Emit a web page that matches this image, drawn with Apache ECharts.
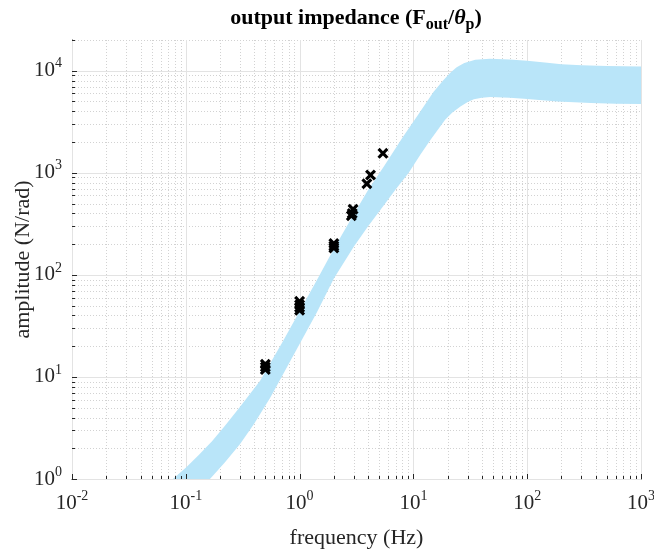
<!DOCTYPE html>
<html>
<head>
<meta charset="utf-8">
<script src="https://cdn.jsdelivr.net/npm/echarts/dist/echarts.min.js"></script>
<style>
  html, body { margin: 0; padding: 0; background: #ffffff; }
  #chart { width: 654px; height: 554px; }
</style>
</head>
<body>
<div id="chart"></div>
<script>
// ---- axis ranges and tick values ----
const xMin = 0.01, xMax = 1000;
const yMin = 1, yMax = 20000;
const xMajorTicks = [0.01, 0.1, 1, 10, 100, 1000];
const yMajorTicks = [1, 10, 100, 1000, 10000];

// ---- band: upper edge (frequency Hz, amplitude N/rad) ----
const upperFreq = [0.077, 0.1, 0.13, 0.17, 0.22, 0.3, 0.45, 0.7, 1.0, 1.42, 2.0, 3.0, 4.0, 5.5, 8.0, 11, 15, 18, 21, 24, 28, 35, 47, 70, 100, 150, 200, 300, 500, 1000];
const upperAmp  = [1, 1.29, 1.72, 2.35, 3.3, 5.1, 9.2, 21.5, 44, 89, 180, 395, 680, 1150, 2200, 3700, 6200, 7900, 9500, 10800, 11900, 12800, 13100, 12900, 12500, 12000, 11600, 11300, 11100, 11000];

// ---- band: lower edge ----
const lowerFreq = [0.163, 0.22, 0.3, 0.4, 0.55, 0.67, 1.0, 1.42, 2.0, 3.0, 4.0, 5.5, 7.0, 9.1, 11.5, 14.1, 19, 22, 25.9, 30, 34, 40, 47.5, 70, 94, 184, 362, 600, 1000];
const lowerAmp  = [1, 1.45, 2.2, 3.5, 6.2, 9.3, 21, 43, 92, 190, 300, 480, 690, 1000, 1500, 2100, 3300, 3900, 4470, 4950, 5250, 5450, 5530, 5450, 5310, 5000, 4820, 4750, 4720];

// ---- measured points (crosses) ----
const markerFreq = [0.5, 0.5, 0.5, 1, 1, 1, 1, 2, 2, 2, 2.85, 2.9, 2.95, 3.9, 4.2, 5.4];
const markerAmp  = [11.8, 12.5, 13.3, 45, 48, 51, 55, 183, 192, 203, 380, 400, 440, 780, 950, 1550];

// ---- labels ----
const titleParts = ['output impedance (F', 'out', '/', 'θ', 'p', ')'];
const xName = 'frequency (Hz)';
const yName = 'amplitude (N/rad)';

// minor tick values (2..9 x each decade)
const xMinorTicks = [];
xMajorTicks.slice(0, -1).forEach(m => { for (let k = 2; k <= 9; k++) xMinorTicks.push(m * k); });
const yMinorTicks = [];
yMajorTicks.forEach(m => { for (let k = 2; k <= 9; k++) if (m * k <= yMax * 1.0001) yMinorTicks.push(m * k); });

const FONT = '"Liberation Serif", "Times New Roman", serif';
const AXIS_COLOR = '#262626';
const MAJOR_GRID = '#e3e3e3';
const MINOR_GRID = '#d2d2d2';
const BAND_COLOR = '#b9e5f9';

const px = v => Math.round(v) + 0.5;

function vGrid(values, major) {
  return {
    type: 'custom', coordinateSystem: 'cartesian2d', silent: true, z: 1,
    data: values.map(v => [v, yMin]),
    renderItem: (params, api) => {
      const cs = params.coordSys;
      const x = px(api.coord([api.value(0), yMin])[0]);
      return { type: 'line', shape: { x1: x, y1: cs.y, x2: x, y2: cs.y + cs.height },
        style: { stroke: major ? MAJOR_GRID : MINOR_GRID, lineWidth: 1, lineDash: major ? null : [1, 2] } };
    }
  };
}
function hGrid(values, major) {
  return {
    type: 'custom', coordinateSystem: 'cartesian2d', silent: true, z: 1,
    data: values.map(v => [xMin, v]),
    renderItem: (params, api) => {
      const cs = params.coordSys;
      const y = px(api.coord([xMin, api.value(1)])[1]);
      return { type: 'line', shape: { x1: cs.x, y1: y, x2: cs.x + cs.width, y2: y },
        style: { stroke: major ? MAJOR_GRID : MINOR_GRID, lineWidth: 1, lineDash: major ? null : [1, 2] } };
    }
  };
}
function xTicks(values, len) {
  return {
    type: 'custom', coordinateSystem: 'cartesian2d', silent: true, z: 6,
    data: values.map(v => [v, yMin]),
    renderItem: (params, api) => {
      const cs = params.coordSys;
      const x = px(api.coord([api.value(0), yMin])[0]);
      const b = cs.y + cs.height;
      return { type: 'line', shape: { x1: x, y1: b, x2: x, y2: b - len }, style: { stroke: AXIS_COLOR, lineWidth: 1 } };
    }
  };
}
function yTicks(values, len) {
  return {
    type: 'custom', coordinateSystem: 'cartesian2d', silent: true, z: 6,
    data: values.map(v => [xMin, v]),
    renderItem: (params, api) => {
      const cs = params.coordSys;
      const y = px(api.coord([xMin, api.value(1)])[1]);
      return { type: 'line', shape: { x1: cs.x, y1: y, x2: cs.x + len, y2: y }, style: { stroke: AXIS_COLOR, lineWidth: 1 } };
    }
  };
}

const bandSeries = {
  type: 'custom', coordinateSystem: 'cartesian2d', silent: true, z: 3,
  data: [[upperFreq[0], upperAmp[0]]],
  renderItem: (params, api) => {
    const pts = [];
    for (let i = 0; i < upperFreq.length; i++) pts.push(api.coord([upperFreq[i], upperAmp[i]]));
    for (let i = lowerFreq.length - 1; i >= 0; i--) pts.push(api.coord([lowerFreq[i], lowerAmp[i]]));
    return { type: 'polygon', shape: { points: pts }, style: { fill: BAND_COLOR, stroke: null } };
  }
};

function powLabel(v) {
  const l = Math.log10(v);
  const e = Math.round(l);
  if (Math.abs(l - e) > 1e-6) return '';
  return '{b|10}{s|' + e + '}';
}
const labelRich = {
  b: { fontFamily: FONT, fontSize: 21, color: AXIS_COLOR, lineHeight: 28 },
  s: { fontFamily: FONT, fontSize: 14, color: AXIS_COLOR, verticalAlign: 'top' }
};

const chart = echarts.init(document.getElementById('chart'), null, { renderer: 'canvas' });
chart.setOption({
  animation: false,
  backgroundColor: '#ffffff',
  grid: { left: 72, right: 13, top: 40, bottom: 75, containLabel: false, outerBoundsMode: 'none' },
  xAxis: {
    type: 'log', logBase: 10, min: xMin, max: xMax,
    name: xName, nameLocation: 'middle', nameGap: 48, nameMoveOverlap: false,
    nameTextStyle: { fontFamily: FONT, fontSize: 22, color: AXIS_COLOR },
    axisLine: { show: true, lineStyle: { color: AXIS_COLOR, width: 1 } },
    axisTick: { show: false },
    splitLine: { show: false },
    axisLabel: { formatter: powLabel, rich: labelRich, margin: 10, showMinLabel: true, showMaxLabel: true, hideOverlap: false }
  },
  yAxis: {
    type: 'log', logBase: 10, min: yMin, max: yMax,
    name: yName, nameLocation: 'middle', nameGap: 38, nameRotate: 90, nameMoveOverlap: false,
    nameTextStyle: { fontFamily: FONT, fontSize: 22, color: AXIS_COLOR },
    axisLine: { show: true, lineStyle: { color: AXIS_COLOR, width: 1 } },
    axisTick: { show: false },
    splitLine: { show: false },
    axisLabel: { formatter: powLabel, rich: labelRich, margin: 10, showMinLabel: true, showMaxLabel: true, hideOverlap: false }
  },
  graphic: [{
    type: 'text', x: 356, y: 3, z: 10,
    style: {
      text: '{b|' + titleParts[0] + '}{sub|' + titleParts[1] + '}{b|' + titleParts[2] + '}{it|' + titleParts[3] + '}{sub|' + titleParts[4] + '}{b|' + titleParts[5] + '}',
      align: 'center', verticalAlign: 'top',
      rich: {
        b: { fontFamily: FONT, fontSize: 22, fontWeight: 'bold', fill: '#000', lineHeight: 30 },
        it: { fontFamily: FONT, fontSize: 22, fontWeight: 'bold', fontStyle: 'italic', fill: '#000', lineHeight: 30 },
        sub: { fontFamily: FONT, fontSize: 16, fontWeight: 'bold', fill: '#000', verticalAlign: 'bottom' }
      }
    }
  }],
  series: [
    vGrid(xMinorTicks, false), hGrid(yMinorTicks, false),
    vGrid(xMajorTicks, true), hGrid(yMajorTicks, true),
    bandSeries,
    xTicks(xMinorTicks, 3), xTicks(xMajorTicks, 5),
    yTicks(yMinorTicks, 3), yTicks(yMajorTicks, 5),
    {
      type: 'scatter', z: 8,
      data: markerFreq.map((f, i) => [f, markerAmp[i]]),
      symbol: 'path://M0,2L2,0L5,3L8,0L10,2L7,5L10,8L8,10L5,7L2,10L0,8L3,5Z',
      symbolSize: 11,
      itemStyle: { color: '#000000', opacity: 1 },
      silent: true
    }
  ]
});
</script>
</body>
</html>
